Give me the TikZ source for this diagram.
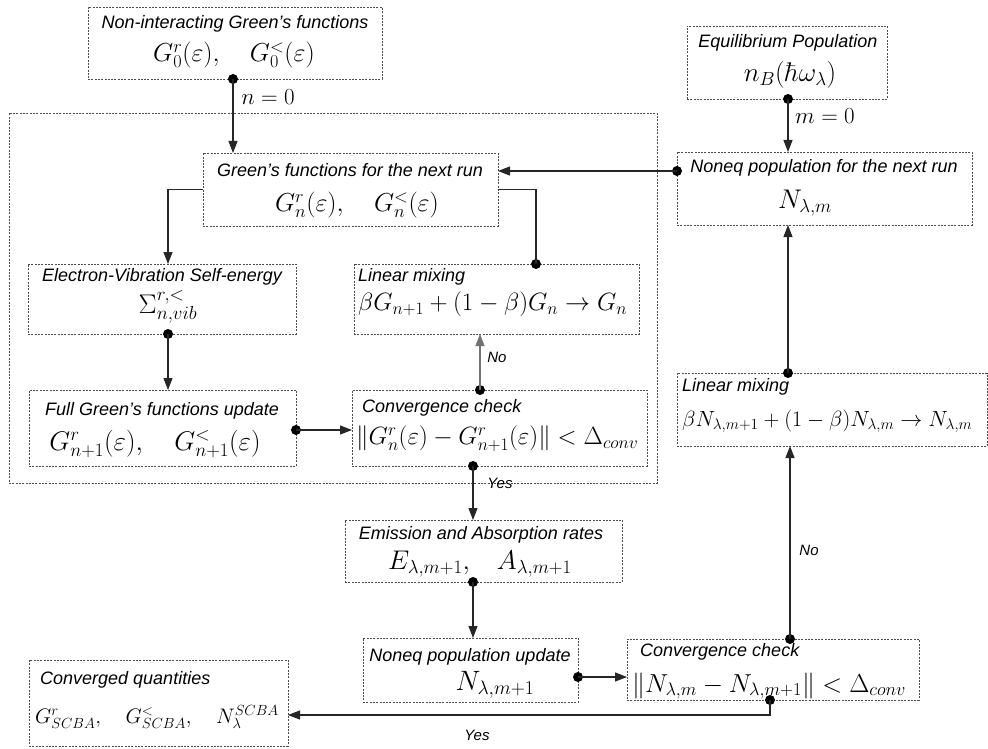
\RequirePackage{fix-cm}
\documentclass[tikz,border=0pt]{standalone}
\usepackage[no-math]{fontspec}
\setmainfont{Liberation Sans}
\usetikzlibrary{arrows.meta}
\newcommand{\lblf}{\fontsize{18}{21}\selectfont\itshape}
\newcommand{\msz}[1]{\fontsize{#1}{#1}\selectfont}
\newcommand{\bx}[5]{\node[box, minimum width={(#4)-(#2)}, minimum height={(#5)-(#3)}] (#1) at ({((#2)+(#4))/2},{((#3)+(#5))/2}) {};}
\tikzset{
  box/.style={draw=black!70, line width=0.9pt, dash pattern=on 2pt off 1.3pt, inner sep=0pt, outer sep=0pt},
  con/.style={line width=1.1pt, draw=black!85},
  arr/.style={con, -{Triangle[length=12pt,width=9pt]}},
  dotn/.style={circle, fill=black, inner sep=0pt, minimum size=10pt},
  lbl/.style={inner sep=0pt, font=\lblf},
  mth/.style={inner sep=0pt},
  tag/.style={inner sep=0pt, font=\fontsize{15}{17}\selectfont\itshape},
}
\begin{document}
\begin{tikzpicture}[x=1pt,y=-1pt]
\useasboundingbox (0,0) rectangle (988,749);
% enclosure
\bx{encl}{9}{113}{657}{483}
% boxes
\bx{A}{88}{7}{382}{79}
\bx{B}{687}{26}{887}{99}
\bx{G}{203}{153}{498}{226}
\bx{C}{677}{152}{972}{225}
\bx{EV}{28}{264}{296}{334}
\bx{LG}{354}{264}{639}{334}
\bx{FU}{29}{390}{296}{466}
\bx{CV}{352}{390}{647}{466}
\bx{EM}{345}{520}{622}{582}
\bx{NU}{363}{638}{578}{702}
\bx{CT}{627}{639}{919}{700}
\bx{LN}{677}{373}{987}{446}
\bx{FI}{29}{660}{288}{746}
% texts
\node[lbl] (tA) at (235,24) {Non-interacting Green's functions};
\node[mth] (mA) at (234,55) {\msz{26}$G_0^r(\varepsilon),\quad G_0^<(\varepsilon)$};
\node[lbl] (tB) at (788,43) {Equilibrium Population};
\node[mth] (mB) at (790,75) {\msz{27}$n_B(\hbar\omega_\lambda)$};
\node[lbl] (tG) at (350,170) {Green's functions for the next run};
\node[mth] (mG) at (357,205) {\msz{26}$G_n^r(\varepsilon),\quad G_n^<(\varepsilon)$};
\node[lbl] (tC) at (824,168) {Noneq population for the next run};
\node[mth] (mC) at (805,203) {\msz{27}$N_{\lambda,m}$};
\node[lbl] (tEV) at (162,277) {Electron-Vibration Self-energy};
\node[mth] (mEV) at (168,307) {\msz{27}$\Sigma^{r,<}_{n,vib}$};
\node[lbl,anchor=west] (tLG) at (358,277) {Linear mixing};
\node[mth,anchor=west] (mLG) at (358,304) {\msz{25}$\beta G_{n+1}+(1-\beta)G_n\rightarrow G_n$};
\node[lbl] (tFU) at (162,411) {Full Green's functions update};
\node[mth] (mFU) at (155,444) {\msz{27}$G_{n+1}^r(\varepsilon),\quad G_{n+1}^<(\varepsilon)$};
\node[lbl,anchor=west] (tCV) at (362,408) {Convergence check};
\node[mth,anchor=west] (mCV) at (356,439) {\msz{25}$\Vert G_n^r(\varepsilon)-G_{n+1}^r(\varepsilon)\Vert<\Delta_{conv}$};
\node[lbl] (tEM) at (481,535) {Emission and Absorption rates};
\node[mth] (mEM) at (480,564) {\msz{27}$E_{\lambda,m+1},\;\;\; A_{\lambda,m+1}$};
\node[lbl] (tNU) at (470,657) {Noneq population update};
\node[mth] (mNU) at (495,685) {\msz{28}$N_{\lambda,m+1}$};
\node[lbl,anchor=west] (tCT) at (640,652) {Convergence check};
\node[mth,anchor=west] (mCT) at (632,686) {\msz{26}$\Vert N_{\lambda,m}-N_{\lambda,m+1}\Vert<\Delta_{conv}$};
\node[lbl,anchor=west] (tLN) at (682,387) {Linear mixing};
\node[mth,anchor=west] (mLN) at (682,421) {\msz{22}$\beta N_{\lambda,m+1}+(1-\beta)N_{\lambda,m}\rightarrow N_{\lambda,m}$};
\node[lbl,anchor=west] (tFI) at (40,680) {Converged quantities};
\node[mth,anchor=west] (mFI) at (35,717) {\msz{21}$G^r_{SCBA},\quad G^<_{SCBA},\quad N_\lambda^{SCBA}$};
% dots
\node[dotn] (dA) at (233,79) {};
\node[dotn] (dB) at (788,99) {};
\node[dotn] (dC) at (677,171) {};
\node[dotn] (dLG) at (536,264) {};
\node[dotn] (dEV) at (168,334) {};
\node[dotn] (dFU) at (296,430) {};
\node[dotn] (dCVt) at (480,390) {};
\node[dotn] (dCVb) at (473,466) {};
\node[dotn] (dEM) at (473,582) {};
\node[dotn] (dNU) at (578,677) {};
\node[dotn] (dCTt) at (790,639) {};
\node[dotn] (dCTb) at (770,700) {};
\node[dotn] (dLN) at (788,373) {};
\coordinate (evin) at (168,264);
\coordinate (fin) at (288,715);
% connectors
\draw[arr] (dA.center) -- (dA.center |- G.north);
\draw[arr] (dB.center) -- (dB.center |- C.north);
\draw[arr] (dC.center) -- (dC.center -| G.east);
\draw[arr] (G.west) -| (evin);
\draw[con] (G.east) -| (dLG.center);
\draw[arr] (dEV.center) -- (dEV.center |- FU.north);
\draw[arr] (dFU.center) -- (dFU.center -| CV.west);
\draw[arr, draw=black!55] (dCVt.center) -- (dCVt.center |- LG.south);
\draw[arr] (dCVb.center) -- (dCVb.center |- EM.north);
\draw[arr] (dEM.center) -- (dEM.center |- NU.north);
\draw[arr] (dNU.center) -- (dNU.center -| CT.west);
\draw[arr] (dCTt.center) -- (dCTt.center |- LN.south);
\draw[arr] (dLN.center) -- (dLN.center |- C.south);
\draw[arr] (dCTb.center) |- (fin);
% connector labels
\node[mth] (ln0) at (268,97) {\msz{23}$n=0$};
\node[mth] (lm0) at (825,116) {\msz{23}$m=0$};
\node[tag] (lno1) at (497,357) {No};
\node[tag] (lyes1) at (500,483) {Yes};
\node[tag] (lno2) at (809,550) {No};
\node[tag] (lyes2) at (477,735) {Yes};
\end{tikzpicture}
\end{document}
